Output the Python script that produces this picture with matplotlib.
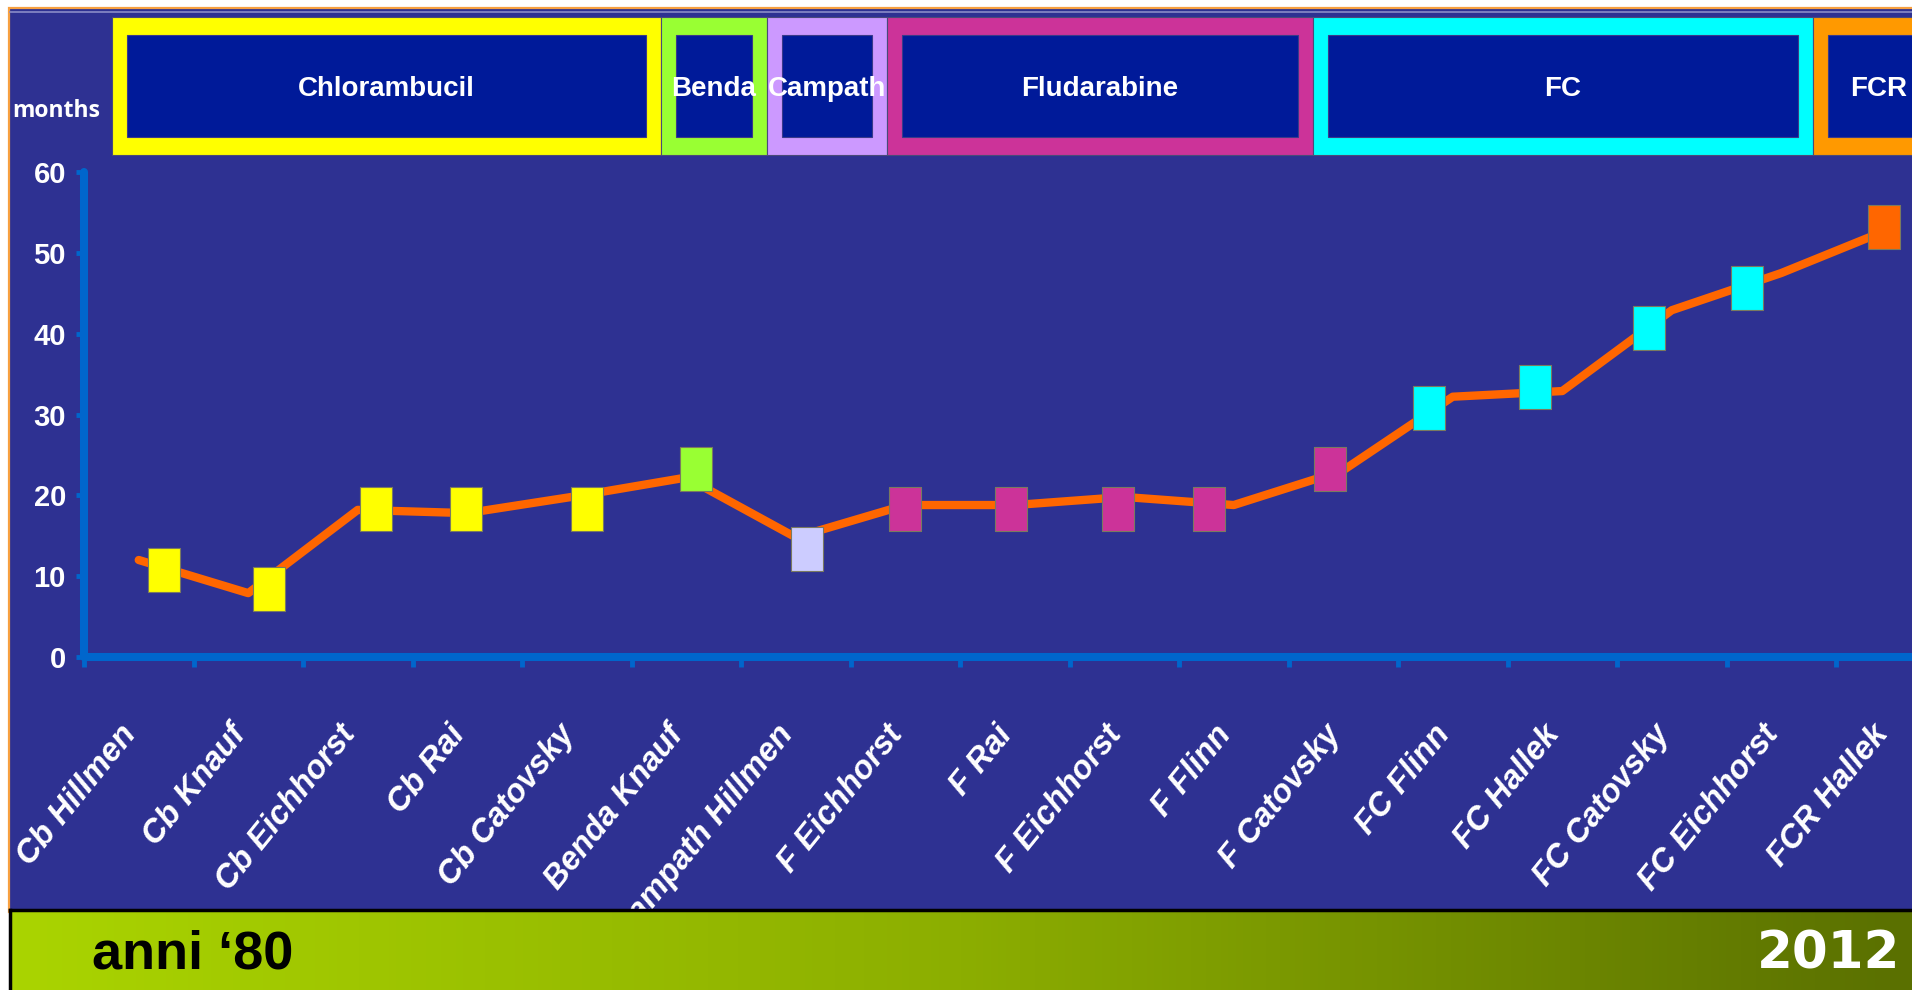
import numpy as np
import matplotlib.pyplot as plt
from matplotlib.patches import Rectangle
from matplotlib.path import Path
from matplotlib.colors import LinearSegmentedColormap
from matplotlib.transforms import ScaledTranslation

# median progression-free survival per study (months)
studies = ['Cb Hillmen', 'Cb Knauf', 'Cb Eichhorst', 'Cb Rai', 'Cb Catovsky',
           'Benda Knauf', 'Campath Hillmen', 'F Eichhorst', 'F Rai', 'F Eichhorst',
           'F Flinn', 'F Catovsky', 'FC Flinn', 'FC Hallek', 'FC Catovsky',
           'FC Eichhorst', 'FCR Hallek']
line_months = [12.0, 7.9, 18.2, 17.8, 19.9, 22.2, 14.8, 18.8, 18.8, 19.8,
               18.8, 23.1, 32.2, 32.9, 42.9, 47.5, 53.0]
# the square symbols were placed by hand, a little off the line
marker_pos = [0.23, 1.19, 2.17, 2.99, 4.09, 5.09, 6.10, 7.00, 7.97, 8.94,
              9.77, 10.88, 11.78, 12.75, 13.79, 14.69, 15.94]
marker_months = [10.8, 8.4, 18.3, 18.3, 18.3, 23.2, 13.3, 18.3, 18.3, 18.3,
                 18.3, 23.2, 30.8, 33.4, 40.7, 45.7, 53.2]
regimens = ['Chlorambucil', 'Benda', 'Campath', 'Fludarabine', 'FC', 'FCR']
study_regimen = [0, 0, 0, 0, 0, 1, 2, 3, 3, 3, 3, 3, 4, 4, 4, 4, 5]
yticks = [0, 10, 20, 30, 40, 50, 60]

marker_colors = ['#FFFF00', '#99FF33', '#CCCCFF', '#CC3399', '#00FFFF', '#FF6600']
header_colors = ['#FFFF00', '#99FF33', '#CC99FF', '#CC3399', '#00FFFF', '#FF9900']

W, H = 1912, 990
navy = '#2E3192'
axis_blue = '#0066CC'
arial = ['Liberation Sans', 'DejaVu Sans']

fig = plt.figure(figsize=(W / 100, H / 100), dpi=100, facecolor='white')

# background layer in pixel coordinates: slide panel + regimen boxes
bg = fig.add_axes([0, 0, 1, 1], zorder=0)
bg.set_xlim(0, W)
bg.set_ylim(H, 0)
bg.axis('off')
bg.add_patch(Rectangle((9, 8), W, 904, facecolor=navy, edgecolor='#F7A040', lw=1.6))
bg.plot([10, W], [11.5, 11.5], color='#8A8CC8', lw=1.2)

header_edges = [112, 661, 767, 887, 1313, 1813, 1990]
top, bottom = 17, 155
bx, by = 15, 18
for k, name in enumerate(regimens):
    x0, x1 = header_edges[k], header_edges[k + 1]
    bg.add_patch(Rectangle((x0, top), x1 - x0, bottom - top,
                           facecolor=header_colors[k], edgecolor='#4A4A7A', lw=0.8))
    bg.add_patch(Rectangle((x0 + bx, top + by), x1 - x0 - 2 * bx, bottom - top - 2 * by,
                           facecolor='#001A99', edgecolor='#3A3A8A', lw=0.8))
    cx = (x0 + x1) / 2 if k < len(regimens) - 1 else 1879
    bg.text(cx, 89, name, color='white', fontsize=20, fontweight='bold',
            family=arial, ha='center', va='center')

bg.text(12, 117, 'months', color='white', fontsize=16.5, fontweight='bold',
        family=['Open Sans', 'DejaVu Sans'], ha='left', va='baseline')

# main chart
left, right = 84, W
y0_px, y60_px = 657, 172
step = 109.5
ax = fig.add_axes([left / W, (H - y0_px) / H, (right - left) / W, (y0_px - y60_px) / H],
                  zorder=2)
ax.set_facecolor('none')
ax.set_xlim(-0.5, -0.5 + (right - left) / step)
ax.set_ylim(0, 60)

x = np.arange(len(studies))
ax.plot(x, line_months, color='#FF6600', lw=6, solid_joinstyle='round',
        solid_capstyle='round', zorder=2)

rect = Path([(-0.372, -0.5), (0.372, -0.5), (0.372, 0.5), (-0.372, 0.5), (-0.372, -0.5)],
            [Path.MOVETO, Path.LINETO, Path.LINETO, Path.LINETO, Path.CLOSEPOLY])
for px, py, g in zip(marker_pos, marker_months, study_regimen):
    ax.plot(px, py, marker=rect, ms=31, mfc=marker_colors[g], mec='#7A7A60',
            mew=0.8, ls='none', zorder=3, clip_on=False)

for side in ['top', 'right']:
    ax.spines[side].set_visible(False)
for side in ['left', 'bottom']:
    ax.spines[side].set_color(axis_blue)
    ax.spines[side].set_linewidth(5.8)
    ax.spines[side].set_capstyle('round')

ax.set_yticks(yticks)
ax.set_yticklabels([str(v) for v in yticks])
ax.tick_params(axis='y', length=6, width=3.5, color=axis_blue, pad=7,
               labelcolor='white', labelsize=21)
for lab in ax.get_yticklabels():
    lab.set_fontweight('bold')
    lab.set_family(arial)

ax.set_xticks(x)
ax.set_xticklabels(studies)
ax.set_xticks(np.arange(-0.5, len(studies) - 0.5, 1), minor=True)
ax.tick_params(axis='x', which='major', length=0, pad=52, labelcolor='white')
ax.tick_params(axis='x', which='minor', length=7, width=3.5, color=axis_blue,
               direction='out')
nudge = ScaledTranslation(-0.08, 0, fig.dpi_scale_trans)
for lab in ax.get_xticklabels():
    lab.set_rotation(51)
    lab.set_ha('right')
    lab.set_va('center')
    lab.set_rotation_mode('anchor')
    lab.set_fontsize(23.5)
    lab.set_fontweight('bold')
    lab.set_fontstyle('italic')
    lab.set_family(arial)
    lab.set_transform(lab.get_transform() + nudge)

# time band along the bottom
band = fig.add_axes([10 / W, 0, 1 - 10 / W, 80 / H], zorder=10)
green = LinearSegmentedColormap.from_list('band', ['#AAD400', '#8CAE00', '#5A7000'])
band.imshow(np.linspace(0, 1, 512)[None, :], cmap=green, aspect='auto',
            extent=[0, 1, 0, 1])
band.set_xlim(0, 1)
band.set_ylim(0, 1)
band.set_xticks([])
band.set_yticks([])
for side in ['bottom', 'right']:
    band.spines[side].set_visible(False)
for side in ['top', 'left']:
    band.spines[side].set_color('black')
    band.spines[side].set_linewidth(2.5)
band.text(0.043, 0.27, 'anni \u201880', color='black', fontsize=39, fontweight='bold',
          family=arial, ha='left', va='baseline')
band.text(0.994, 0.27, '2012', color='white', fontsize=37, fontweight='bold',
          family='DejaVu Sans', ha='right', va='baseline')

fig.savefig('out.png', dpi=100, facecolor='white')
